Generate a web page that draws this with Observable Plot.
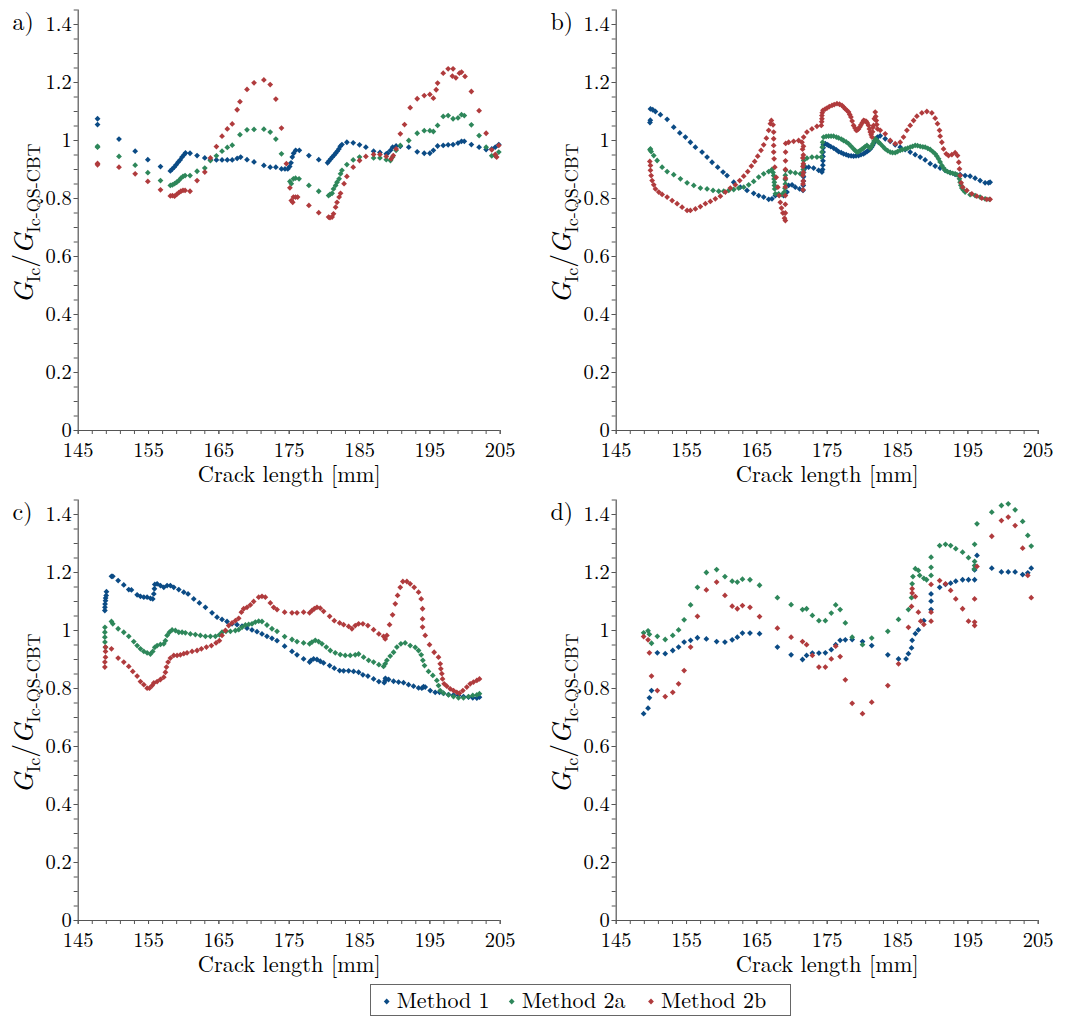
<!DOCTYPE html>
<html><head><meta charset="utf-8">
<script src="https://cdn.jsdelivr.net/npm/d3@7"></script>
<script src="https://cdn.jsdelivr.net/npm/@observablehq/plot@0.6"></script>
<style>
body{margin:0;background:#fff;}
#root{position:relative;width:1077px;height:1016px;background:#fff;overflow:hidden}
</style></head><body><div id="root"></div>
<script>
const FONT = "Latin Modern Roman";
const METHODS = ["Method 1", "Method 2a", "Method 2b"];
const COLORS = ["#0b4b85", "#2e875a", "#b03b3d"];
const AXIS = "#555";
const PANEL_LABELS = ["a)", "b)", "c)", "d)"];
const X_LABEL = "Crack length [mm]";
const xTicks = [145,155,165,175,185,195,205];
const xMinor = [145,147,149,151,153,155,157,159,161,163,165,167,169,171,173,175,177,179,181,183,185,187,189,191,193,195,197,199,201,203,205];
const yTicks = [0,0.2,0.4,0.6,0.8,1,1.2,1.4];
const yMinor = [0,0.05,0.1,0.15,0.2,0.25,0.3,0.35,0.4,0.45,0.5,0.55,0.6,0.65,0.7,0.75,0.8,0.85,0.9,0.95,1,1.05,1.1,1.15,1.2,1.25,1.3,1.35,1.4,1.45];

// ---------- panel a ----------
const a_m1 = [[147.75,1.075],[147.75,1.055],[150.8,1.005],[153.1,0.963],[154.9,0.934],[156.7,0.910],[158.1,0.895],[158.35,0.901],[158.64,0.908],[158.92,0.916],[159.2,0.925],[159.49,0.933],[159.77,0.943],[160.06,0.951],[160.25,0.957],[160.9,0.956],[161.9,0.948],[163.0,0.940],[163.8,0.933],[164.65,0.933],[165.45,0.933],[166.2,0.933],[166.9,0.933],[167.6,0.938],[168.1,0.943],[169.0,0.934],[170.0,0.926],[171.4,0.914],[172.3,0.908],[173.1,0.908],[173.9,0.902],[174.4,0.902],[174.8,0.902],[175.07,0.910],[175.26,0.923],[175.44,0.943],[175.63,0.956],[175.92,0.966],[176.44,0.966],[177.8,0.948],[179.2,0.934],[180.46,0.923],[180.65,0.929],[180.89,0.936],[181.13,0.943],[181.36,0.949],[181.6,0.956],[181.84,0.963],[182.07,0.971],[182.26,0.980],[182.5,0.986],[183.2,0.994],[184.1,0.992],[185.0,0.985],[185.9,0.977],[187.0,0.963],[187.9,0.959],[188.8,0.954],[189.0,0.956],[189.4,0.966],[189.7,0.977],[190.2,0.981],[190.8,0.980],[192.0,0.977],[193.2,0.961],[194.2,0.956],[195.0,0.956],[195.5,0.966],[196.1,0.981],[196.9,0.983],[197.6,0.985],[198.3,0.986],[199.0,0.991],[199.5,0.997],[199.9,0.997],[200.9,0.986],[202.0,0.977],[203.0,0.969],[203.8,0.971],[204.3,0.977],[204.8,0.986]];
const a_m2a = [[147.75,0.980],[147.75,0.977],[150.8,0.945],[153.1,0.915],[154.9,0.889],[156.7,0.862],[158.1,0.845],[158.4,0.847],[158.7,0.851],[159.0,0.856],[159.3,0.862],[159.6,0.870],[159.9,0.876],[160.2,0.879],[160.9,0.879],[161.9,0.894],[163.0,0.905],[163.8,0.931],[164.65,0.947],[165.45,0.963],[166.2,0.976],[166.9,0.984],[168.0,1.020],[169.0,1.037],[170.0,1.038],[171.4,1.039],[172.3,1.029],[173.1,1.005],[173.9,0.954],[175.1,0.859],[175.3,0.851],[175.6,0.868],[175.9,0.870],[176.4,0.868],[177.8,0.845],[179.2,0.825],[180.6,0.810],[180.8,0.814],[181.1,0.818],[181.3,0.833],[181.6,0.845],[181.8,0.856],[182.1,0.868],[182.3,0.885],[182.5,0.897],[183.2,0.917],[184.1,0.933],[185.0,0.943],[187.0,0.940],[187.9,0.940],[188.8,0.934],[189.4,0.931],[189.7,0.943],[190.2,0.966],[190.8,0.983],[192.0,1.000],[193.2,1.025],[194.2,1.034],[195.0,1.034],[195.5,1.031],[196.1,1.052],[196.9,1.083],[197.6,1.086],[198.3,1.075],[199.0,1.078],[199.5,1.089],[199.9,1.086],[200.9,1.054],[202.0,1.017],[203.0,0.977],[203.8,0.947],[204.3,0.947],[204.8,0.960]];
const a_m2b = [[147.75,0.921],[147.75,0.916],[150.8,0.908],[153.1,0.885],[154.9,0.859],[156.7,0.830],[158.1,0.809],[158.4,0.810],[158.7,0.808],[159.0,0.814],[159.3,0.820],[159.6,0.825],[159.9,0.828],[160.2,0.828],[160.9,0.825],[161.9,0.862],[163.0,0.891],[163.8,0.940],[164.65,0.979],[165.45,1.015],[166.2,1.040],[166.9,1.057],[167.6,1.106],[168.0,1.134],[169.0,1.176],[170.0,1.199],[171.4,1.209],[172.3,1.193],[173.1,1.143],[173.9,1.043],[174.6,0.920],[175.1,0.837],[175.3,0.793],[175.5,0.787],[175.6,0.805],[175.9,0.805],[176.2,0.805],[177.8,0.776],[179.2,0.751],[180.6,0.736],[180.8,0.734],[181.1,0.736],[181.3,0.747],[181.6,0.770],[181.8,0.787],[182.1,0.805],[182.3,0.818],[182.8,0.851],[183.2,0.876],[184.1,0.908],[185.0,0.931],[185.9,0.945],[187.0,0.952],[187.9,0.952],[188.8,0.945],[189.5,0.937],[189.8,0.948],[190.2,0.971],[190.8,1.023],[191.4,1.055],[192.2,1.113],[193.2,1.144],[194.2,1.155],[195.0,1.159],[195.5,1.146],[195.9,1.175],[196.1,1.198],[196.9,1.232],[197.6,1.247],[198.3,1.247],[198.2,1.222],[198.7,1.216],[199.2,1.232],[199.5,1.236],[200.0,1.221],[200.9,1.169],[202.0,1.103],[203.0,1.025],[203.8,0.968],[204.3,0.952],[204.5,0.943],[204.8,0.983]];

// ---------- panel b ----------
const b_m1 = [[149.8,1.062],[149.85,1.070],[149.87,1.109],[150.2,1.106],[150.58,1.100],[151.29,1.089],[152.24,1.073],[153.18,1.046],[154.04,1.026],[154.84,1.012],[155.55,0.994],[156.26,0.977],[157.21,0.960],[157.92,0.943],[158.63,0.925],[159.43,0.908],[160.19,0.891],[160.76,0.879],[161.71,0.856],[162.65,0.839],[163.6,0.828],[164.55,0.818],[165.26,0.810],[165.97,0.805],[166.68,0.797],[167.15,0.799],[167.63,0.810],[168.1,0.813],[168.81,0.810],[169.28,0.822],[169.52,0.845],[170.0,0.847],[170.47,0.839],[171.08,0.833],[171.56,0.828],[171.6,0.845],[171.62,0.860],[171.63,0.875],[171.65,0.890],[171.7,0.900],[171.9,0.908],[172.36,0.908],[173.07,0.905],[173.78,0.897],[174.25,0.891],[174.35,0.900],[174.38,0.915],[174.4,0.930],[174.4,0.945],[174.42,0.960],[174.43,0.975],[174.45,0.985],[174.73,0.989],[175.0,0.986],[175.2,0.983],[175.5,0.979],[175.91,0.974],[176.3,0.968],[176.62,0.962],[177.0,0.958],[177.33,0.954],[177.7,0.951],[178.04,0.948],[178.4,0.947],[178.75,0.946],[179.1,0.947],[179.46,0.948],[179.8,0.951],[180.17,0.954],[180.4,0.958],[180.65,0.962],[180.9,0.966],[181.12,0.971],[181.3,0.977],[181.45,0.983],[181.6,0.990],[181.83,1.000],[182.0,1.006],[182.16,1.012],[182.54,1.016],[183.25,1.006],[183.96,0.997],[184.67,0.985],[185.38,0.977],[186.09,0.969],[186.8,0.960],[187.51,0.951],[188.22,0.943],[188.93,0.933],[189.64,0.920],[190.35,0.912],[191.06,0.905],[191.77,0.897],[192.48,0.889],[193.19,0.883],[193.9,0.882],[194.61,0.879],[195.32,0.877],[196.03,0.870],[196.74,0.862],[197.45,0.854],[197.93,0.854],[198.16,0.856]];
const b_m2a = [[149.8,0.968],[149.87,0.971],[149.97,0.962],[150.34,0.948],[150.82,0.931],[151.53,0.908],[152.24,0.893],[153.18,0.882],[154.13,0.868],[155.08,0.854],[156.03,0.845],[156.97,0.836],[157.92,0.833],[158.77,0.828],[159.58,0.825],[160.29,0.825],[161.0,0.828],[161.71,0.831],[162.42,0.836],[163.13,0.839],[163.84,0.847],[164.55,0.859],[165.26,0.874],[165.97,0.885],[166.68,0.893],[167.15,0.900],[167.3,0.890],[167.39,0.879],[167.45,0.867],[167.48,0.856],[167.5,0.845],[167.53,0.833],[167.63,0.816],[168.1,0.816],[168.57,0.813],[168.9,0.822],[169.0,0.835],[169.05,0.850],[169.05,0.865],[169.05,0.880],[169.08,0.897],[169.76,0.891],[170.47,0.888],[171.18,0.885],[171.45,0.884],[171.6,0.900],[171.63,0.915],[171.65,0.931],[172.12,0.939],[172.83,0.943],[173.54,0.943],[174.16,0.943],[174.25,0.960],[174.3,0.977],[174.35,0.994],[174.49,1.012],[174.85,1.014],[175.2,1.015],[175.55,1.015],[175.91,1.015],[176.3,1.012],[176.62,1.009],[177.0,1.005],[177.33,1.000],[177.7,0.995],[178.04,0.989],[178.4,0.980],[178.75,0.971],[179.0,0.965],[179.23,0.960],[179.45,0.962],[179.7,0.966],[179.95,0.970],[180.17,0.974],[180.4,0.979],[180.65,0.983],[180.9,0.978],[181.12,0.974],[181.3,0.980],[181.5,0.989],[181.65,0.998],[181.83,1.006],[182.1,1.000],[182.3,0.994],[182.54,0.989],[182.9,0.980],[183.25,0.971],[183.6,0.965],[183.96,0.960],[184.3,0.958],[184.67,0.958],[185.0,0.962],[185.38,0.966],[185.7,0.969],[186.09,0.971],[186.45,0.974],[186.8,0.977],[187.15,0.980],[187.51,0.983],[187.85,0.982],[188.22,0.980],[188.6,0.978],[188.93,0.977],[189.3,0.973],[189.64,0.969],[190.0,0.962],[190.35,0.954],[190.6,0.946],[190.83,0.937],[191.05,0.926],[191.3,0.914],[191.55,0.905],[191.77,0.897],[192.1,0.893],[192.48,0.889],[192.85,0.887],[193.19,0.885],[193.45,0.882],[193.67,0.879],[193.8,0.868],[193.9,0.856],[194.0,0.846],[194.14,0.836],[194.35,0.829],[194.61,0.822],[195.32,0.813],[196.03,0.810],[196.74,0.805],[197.45,0.799],[198.07,0.797]];
const b_m2b = [[149.78,0.928],[149.87,0.914],[149.87,0.897],[149.97,0.879],[150.11,0.862],[150.34,0.847],[150.58,0.833],[151.05,0.822],[151.53,0.814],[152.24,0.805],[152.95,0.793],[153.66,0.782],[154.37,0.770],[155.08,0.759],[155.55,0.759],[156.26,0.764],[156.97,0.772],[157.68,0.782],[158.39,0.790],[159.1,0.799],[159.81,0.808],[160.52,0.822],[161.23,0.836],[161.94,0.847],[162.56,0.862],[163.13,0.877],[163.7,0.893],[164.22,0.912],[164.69,0.928],[165.12,0.946],[165.59,0.966],[165.97,0.985],[166.35,1.008],[166.68,1.035],[166.92,1.058],[167.06,1.069],[167.3,1.054],[167.39,1.029],[167.39,1.006],[167.39,0.983],[167.39,0.960],[167.45,0.937],[167.55,0.908],[167.75,0.873],[167.98,0.839],[168.17,0.810],[168.33,0.787],[168.5,0.767],[168.7,0.750],[168.93,0.732],[169.05,0.724],[169.05,0.750],[169.05,0.780],[169.05,0.810],[169.05,0.840],[169.06,0.870],[169.06,0.900],[169.07,0.930],[169.08,0.960],[169.1,0.990],[169.52,0.994],[170.23,0.997],[170.94,1.000],[171.41,0.994],[171.5,0.970],[171.53,0.940],[171.55,0.910],[171.56,0.880],[171.56,0.850],[171.57,0.830],[171.6,0.860],[171.6,0.890],[171.61,0.920],[171.61,0.950],[171.62,0.980],[171.65,1.012],[172.12,1.029],[172.83,1.040],[173.54,1.049],[174.16,1.052],[174.22,1.065],[174.25,1.075],[174.25,1.086],[174.3,1.096],[174.4,1.104],[174.7,1.108],[174.97,1.112],[175.3,1.117],[175.68,1.121],[176.0,1.124],[176.39,1.127],[176.75,1.125],[177.1,1.121],[177.35,1.115],[177.57,1.109],[177.8,1.104],[178.04,1.098],[178.2,1.090],[178.37,1.081],[178.55,1.067],[178.75,1.052],[178.95,1.043],[179.13,1.035],[179.3,1.037],[179.46,1.040],[179.65,1.047],[179.8,1.054],[180.0,1.062],[180.17,1.069],[180.35,1.068],[180.55,1.066],[180.7,1.060],[180.88,1.052],[181.0,1.040],[181.12,1.029],[181.25,1.020],[181.36,1.012],[181.45,1.030],[181.5,1.045],[181.59,1.052],[181.7,1.075],[181.83,1.098],[181.9,1.083],[181.97,1.069],[182.05,1.055],[182.16,1.040],[182.54,1.035],[183.25,1.023],[183.96,1.000],[184.67,0.989],[185.38,0.994],[185.85,1.012],[186.33,1.035],[186.8,1.052],[187.28,1.069],[187.75,1.084],[188.46,1.095],[189.17,1.100],[189.88,1.095],[190.35,1.077],[190.68,1.058],[190.97,1.035],[191.06,1.015],[191.3,0.994],[191.54,0.971],[191.92,0.954],[192.25,0.948],[192.72,0.951],[193.19,0.958],[193.53,0.948],[193.71,0.925],[193.81,0.902],[193.9,0.879],[194.05,0.854],[194.28,0.839],[194.85,0.828],[195.56,0.816],[196.27,0.808],[196.98,0.801],[197.69,0.797],[198.16,0.797]];

// ---------- panel c ----------
const c_m1 = [[148.79,1.069],[148.8,1.080],[148.82,1.091],[148.88,1.103],[148.9,1.112],[148.98,1.121],[149.02,1.134],[149.73,1.187],[149.92,1.187],[150.68,1.172],[151.48,1.157],[152.19,1.141],[152.57,1.140],[153.38,1.123],[153.85,1.118],[154.33,1.115],[154.8,1.115],[155.27,1.111],[155.6,1.109],[155.75,1.126],[155.84,1.144],[155.89,1.159],[156.22,1.161],[156.69,1.155],[157.17,1.149],[157.64,1.155],[158.11,1.155],[158.59,1.149],[159.3,1.141],[160.01,1.132],[160.62,1.126],[161.43,1.109],[162.23,1.095],[163.09,1.080],[164.03,1.061],[164.74,1.046],[165.45,1.038],[166.16,1.031],[166.87,1.023],[167.58,1.020],[168.29,1.015],[169.0,1.008],[169.71,1.002],[170.42,0.996],[171.13,0.988],[171.84,0.980],[172.55,0.973],[173.27,0.965],[174.35,0.946],[175.4,0.928],[176.11,0.916],[177.05,0.902],[177.9,0.891],[178.1,0.897],[178.47,0.902],[178.95,0.900],[179.42,0.894],[179.89,0.888],[180.75,0.879],[181.41,0.870],[182.17,0.862],[182.74,0.861],[183.45,0.861],[184.16,0.859],[184.87,0.856],[185.48,0.847],[186.19,0.843],[187.0,0.833],[187.75,0.824],[188.51,0.820],[188.65,0.828],[188.68,0.835],[189.13,0.831],[189.84,0.825],[190.55,0.822],[191.26,0.820],[191.97,0.813],[192.68,0.808],[193.39,0.802],[193.86,0.801],[194.1,0.806],[194.34,0.805],[195.05,0.793],[195.76,0.787],[196.37,0.787],[196.94,0.783],[197.65,0.779],[198.36,0.778],[199.07,0.776],[199.78,0.772],[200.49,0.770],[201.1,0.768],[201.68,0.767],[202.05,0.770]];
const c_m2a = [[148.88,0.942],[148.8,0.960],[148.79,0.977],[148.79,0.994],[148.8,1.011],[149.73,1.031],[149.92,1.023],[150.68,1.006],[151.48,0.994],[152.19,0.980],[152.9,0.962],[153.38,0.948],[153.85,0.937],[154.33,0.928],[154.8,0.923],[155.27,0.919],[155.6,0.928],[155.89,0.942],[156.22,0.948],[156.69,0.952],[157.17,0.954],[157.4,0.965],[157.64,0.983],[157.97,0.994],[158.35,1.002],[158.82,1.000],[159.3,0.994],[159.77,0.994],[160.24,0.992],[160.95,0.988],[161.66,0.986],[162.37,0.983],[163.09,0.980],[163.8,0.980],[164.51,0.980],[165.07,0.985],[165.45,0.994],[166.02,0.997],[166.64,0.997],[167.35,1.000],[167.82,1.003],[168.29,1.011],[168.77,1.019],[169.24,1.021],[169.71,1.023],[170.19,1.029],[170.66,1.032],[171.13,1.031],[171.84,1.019],[172.55,1.006],[173.27,0.997],[174.35,0.979],[175.4,0.969],[176.11,0.962],[177.05,0.957],[177.9,0.954],[178.24,0.960],[178.71,0.966],[179.18,0.962],[179.66,0.954],[180.27,0.943],[180.84,0.931],[181.55,0.923],[182.26,0.917],[182.97,0.914],[183.68,0.914],[184.39,0.916],[184.87,0.919],[185.58,0.908],[186.29,0.897],[187.0,0.891],[187.75,0.882],[188.42,0.876],[188.65,0.885],[188.89,0.897],[189.36,0.912],[189.84,0.925],[190.31,0.943],[190.88,0.954],[191.49,0.957],[192.2,0.948],[192.92,0.942],[193.39,0.931],[193.77,0.916],[194.0,0.897],[194.24,0.879],[194.81,0.859],[195.42,0.845],[195.99,0.828],[196.23,0.810],[196.47,0.793],[196.94,0.784],[197.65,0.778],[198.36,0.772],[199.07,0.768],[199.78,0.768],[200.49,0.772],[201.1,0.776],[201.68,0.778],[202.05,0.782]];
const c_m2b = [[148.79,0.874],[148.79,0.891],[148.88,0.908],[148.88,0.928],[148.88,0.943],[149.73,0.937],[150.68,0.905],[151.48,0.891],[152.19,0.876],[152.76,0.859],[153.38,0.843],[153.85,0.824],[154.33,0.813],[154.8,0.801],[155.13,0.801],[155.51,0.810],[155.75,0.819],[156.22,0.824],[156.69,0.831],[157.17,0.839],[157.4,0.856],[157.55,0.874],[157.78,0.891],[158.11,0.905],[158.59,0.914],[159.06,0.914],[159.53,0.916],[160.01,0.920],[160.48,0.923],[161.19,0.928],[161.9,0.931],[162.52,0.937],[163.23,0.943],[163.94,0.948],[164.6,0.957],[165.07,0.965],[165.45,0.983],[165.93,1.000],[166.4,1.017],[166.87,1.026],[167.35,1.034],[167.82,1.042],[168.2,1.063],[168.53,1.075],[169.0,1.080],[169.48,1.088],[169.95,1.100],[170.66,1.115],[171.13,1.118],[171.61,1.115],[172.32,1.095],[172.79,1.080],[173.27,1.072],[174.35,1.063],[175.4,1.061],[176.11,1.061],[177.05,1.063],[177.9,1.061],[178.24,1.069],[178.57,1.075],[178.95,1.080],[179.42,1.077],[179.89,1.066],[180.75,1.049],[181.41,1.034],[182.17,1.026],[182.74,1.020],[183.45,1.014],[183.92,1.006],[184.39,1.017],[184.87,1.023],[185.48,1.023],[186.19,1.017],[187.0,1.003],[187.75,0.988],[188.42,0.980],[188.65,0.971],[188.89,0.983],[189.27,1.020],[189.7,1.054],[190.08,1.092],[190.41,1.121],[190.79,1.149],[191.16,1.169],[191.73,1.169],[192.2,1.161],[192.77,1.149],[193.39,1.132],[193.77,1.109],[193.96,1.075],[193.96,1.040],[193.96,1.012],[194.34,0.983],[194.95,0.951],[195.61,0.925],[196.23,0.908],[196.47,0.885],[196.56,0.868],[196.7,0.851],[196.8,0.833],[197.03,0.816],[197.41,0.808],[197.89,0.799],[198.36,0.793],[198.83,0.787],[199.21,0.784],[199.69,0.793],[200.25,0.805],[200.73,0.816],[201.2,0.822],[201.68,0.828],[202.05,0.833]];

// ---------- panel d ----------
const d_m1 = [[148.90,0.713],[149.53,0.732],[149.72,0.768],[150.02,0.793],[150.85,0.923],[151.97,0.920],[153.04,0.931],[153.87,0.943],[154.66,0.960],[155.58,0.966],[156.55,0.975],[157.82,0.971],[159.28,0.962],[160.46,0.960],[161.49,0.968],[162.22,0.977],[162.95,0.991],[164.02,0.991],[165.38,0.989],[167.92,0.943],[169.87,0.916],[171.49,0.900],[172.07,0.914],[172.89,0.922],[173.82,0.922],[174.74,0.923],[175.58,0.934],[176.21,0.951],[176.84,0.966],[177.58,0.968],[178.55,0.969],[180.02,0.962],[181.33,0.948],[183.62,0.916],[185.14,0.902],[186.21,0.902],[186.55,0.920],[186.99,0.940],[187.08,0.966],[187.53,0.989],[187.96,1.002],[188.74,1.034],[189.77,1.072],[189.77,1.101],[189.77,1.126],[190.99,1.149],[191.82,1.159],[192.55,1.163],[193.28,1.170],[194.25,1.175],[195.09,1.175],[195.96,1.175],[195.96,1.209],[196.30,1.259],[198.40,1.215],[199.77,1.202],[200.74,1.202],[201.72,1.202],[202.79,1.193],[203.52,1.199],[204.01,1.215]];
const d_m2a = [[148.90,0.992],[149.53,0.999],[149.72,0.987],[150.02,0.956],[150.85,0.980],[151.97,0.969],[153.04,0.983],[153.87,1.002],[154.66,1.037],[155.58,1.088],[156.55,1.149],[157.82,1.200],[159.28,1.210],[160.46,1.186],[161.49,1.170],[162.22,1.167],[162.95,1.177],[164.02,1.175],[165.38,1.156],[167.92,1.113],[169.87,1.089],[171.49,1.072],[172.07,1.075],[172.89,1.052],[173.82,1.034],[174.74,1.034],[175.58,1.060],[176.21,1.088],[176.84,1.072],[177.58,1.026],[178.55,0.977],[180.02,0.951],[181.33,0.974],[183.62,0.997],[185.14,1.038],[186.55,1.072],[186.99,1.113],[187.08,1.161],[187.19,1.186],[187.53,1.213],[187.96,1.207],[188.15,1.190],[188.74,1.180],[189.13,1.175],[189.77,1.190],[189.77,1.218],[189.77,1.253],[190.99,1.293],[191.82,1.297],[192.55,1.293],[193.28,1.282],[194.25,1.270],[195.09,1.251],[195.96,1.238],[195.96,1.224],[195.9,1.212],[195.96,1.297],[196.30,1.368],[198.40,1.408],[199.77,1.431],[200.74,1.437],[201.72,1.416],[202.79,1.376],[203.52,1.328],[204.01,1.291]];
const d_m2b = [[148.90,0.979],[149.53,0.968],[149.72,0.923],[150.02,0.843],[150.85,0.793],[151.97,0.772],[153.04,0.787],[153.87,0.816],[154.66,0.862],[155.58,0.943],[156.55,1.049],[157.82,1.140],[159.28,1.167],[160.46,1.121],[161.49,1.084],[162.22,1.075],[162.95,1.086],[164.02,1.080],[165.38,1.048],[167.92,1.008],[169.87,0.977],[171.49,0.962],[172.07,0.951],[172.89,0.914],[173.82,0.874],[174.74,0.874],[175.58,0.902],[176.21,0.946],[176.84,0.910],[177.58,0.830],[178.55,0.749],[180.02,0.713],[181.33,0.753],[183.62,0.810],[185.14,0.885],[186.55,1.011],[186.99,1.083],[187.08,1.144],[187.08,1.129],[187.53,1.117],[187.96,1.063],[188.30,1.032],[188.74,1.021],[189.77,1.032],[189.77,1.063],[189.77,1.159],[190.99,1.172],[191.82,1.161],[192.55,1.138],[193.28,1.109],[194.25,1.075],[195.09,1.032],[195.96,1.017],[195.96,1.029],[195.96,1.109],[196.30,1.221],[198.40,1.325],[199.77,1.379],[200.74,1.391],[201.72,1.362],[202.79,1.284],[203.52,1.190],[204.01,1.113]];

const PANELS = [
  {label: PANEL_LABELS[0], series: [a_m1, a_m2a, a_m2b], left: 0, top: 0},
  {label: PANEL_LABELS[1], series: [b_m1, b_m2a, b_m2b], left: 538, top: 0},
  {label: PANEL_LABELS[2], series: [c_m1, c_m2a, c_m2b], left: 0, top: 490},
  {label: PANEL_LABELS[3], series: [d_m1, d_m2a, d_m2b], left: 538, top: 490}
];

const root = document.getElementById("root");

function drawPanel(p) {
  const rows = [];
  p.series.forEach((s, i) => s.forEach(([x, y]) => rows.push({x, y, method: METHODS[i]})));
  const chart = Plot.plot({
    width: 538, height: 490,
    marginLeft: 77.7, marginRight: 38.3, marginTop: 9.5, marginBottom: 60,
    x: {domain: [145, 205]},
    y: {domain: [0, 1.45]},
    color: {domain: METHODS, range: COLORS},
    style: {fontFamily: FONT, fontSize: "20.5px", color: "#000", background: "transparent", overflow: "visible"},
    marks: [
      Plot.axisY({ticks: yMinor, tickSize: 4, fill: "none", stroke: AXIS, label: null}),
      Plot.axisY({ticks: yTicks, tickSize: 4, tickPadding: 2.5, tickFormat: d => String(d), stroke: AXIS, fill: "#000", fontSize: 20.5, fontFamily: FONT, label: null}),
      Plot.axisX({ticks: xMinor, tickSize: 4, fill: "none", stroke: AXIS, label: null}),
      Plot.axisX({ticks: xTicks, tickSize: 4, tickPadding: 8, tickFormat: d => String(d), stroke: AXIS, fill: "#000", fontSize: 20.5, fontFamily: FONT, label: null}),
      Plot.ruleX([145], {y1: 0, y2: 1.45, stroke: AXIS, strokeWidth: 1.2}),
      Plot.ruleY([0], {x1: 145, x2: 205, stroke: AXIS, strokeWidth: 1.2}),
      Plot.text([X_LABEL], {frameAnchor: "bottom", lineAnchor: "middle", dy: 44.5, fontSize: 22.4, fontFamily: FONT, fill: "#000"}),
      Plot.dot(rows, {x: "x", y: "y", fill: "method", symbol: "diamond2", r: 2.6, stroke: "none"})
    ]
  });
  const svg = d3.select(chart);
  svg.append("text")
    .attr("x", 12.5).attr("y", 30)
    .attr("text-anchor", "start")
    .attr("font-family", FONT).attr("font-size", 24).attr("fill", "#000")
    .text(p.label);
  const t = svg.append("text")
    .attr("transform", "translate(33,223.5) rotate(-90)")
    .attr("text-anchor", "middle")
    .attr("font-family", FONT).attr("font-size", 27.5).attr("fill", "#000");
  t.append("tspan").attr("font-style", "italic").text("G");
  t.append("tspan").attr("dy", 7).attr("font-size", 18).text("Ic");
  t.append("tspan").attr("dy", -7).text("/");
  t.append("tspan").attr("font-style", "italic").text("G");
  t.append("tspan").attr("dy", 7).attr("font-size", 18).text("Ic-QS-CBT");
  chart.style.position = "absolute";
  chart.style.left = p.left + "px";
  chart.style.top = p.top + "px";
  root.appendChild(chart);
}
PANELS.forEach(drawPanel);

// legend
const legendX = [386.7, 511.7, 651];
const lg = d3.select(root).append("svg")
  .attr("width", 1077).attr("height", 1016)
  .style("position", "absolute").style("left", "0px").style("top", "0px")
  .style("pointer-events", "none");
lg.append("rect").attr("x", 370.5).attr("y", 984.5).attr("width", 420).attr("height", 31)
  .attr("fill", "#fff").attr("stroke", "#666").attr("stroke-width", 1);
METHODS.forEach((m, i) => {
  lg.append("path").attr("d", d3.symbol(d3.symbolDiamond2, Math.PI * 2.6 * 2.6)())
    .attr("transform", `translate(${legendX[i]},1001.5)`).attr("fill", COLORS[i]);
  lg.append("text").attr("x", legendX[i] + 10).attr("y", 1008)
    .attr("font-family", FONT).attr("font-size", 22).attr("fill", "#000").text(m);
});
</script></body></html>
